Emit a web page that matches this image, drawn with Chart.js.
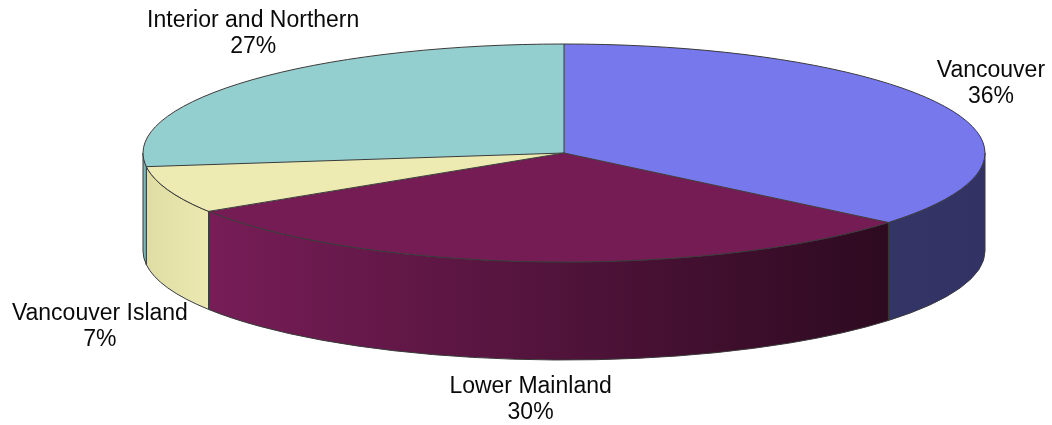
<!DOCTYPE html>
<html lang="en">
<head>
<meta charset="UTF-8">
<title>Share by region</title>
<script src="https://cdn.jsdelivr.net/npm/chart.js"></script>
<style>
  body { margin: 0; background: #fff; }
  canvas { display: block; }
</style>
</head>
<body>
<canvas id="pie3d" width="1052" height="425"></canvas>
<script>
// data
const regions = ['Vancouver', 'Lower Mainland', 'Vancouver Island', 'Interior and Northern'];
const shares = [36, 30, 7, 27];

// look
const topColors = ['#7678EC', '#751C55', '#EDEBB2', '#94CFD0'];
const sideLeft = ['#343567', '#771D57', '#DFDDA2', '#80B6B7'];
const sideRight = ['#323364', '#2D0A20', '#EBE9B1', '#80B6B7'];
const labelOffsets = [[46, -30], [-7, 33], [-68, 32], [5, -54]];
const tilt = 109 / 421;
const depth = 98;
const edge = '#3a3a3a';

function geom(chart) {
    const arcs = chart.getDatasetMeta(0).data;
    const p = arcs[0].getProps(['x', 'y', 'outerRadius'], true);
    return { arcs, cx: p.x, cy: p.y, rx: p.outerRadius, ry: p.outerRadius * tilt };
}

const pie3d = {
    id: 'pie3d',
    beforeDatasetsDraw(chart) {
        const ctx = chart.ctx;
        const { arcs, cx, cy, rx, ry } = geom(chart);
        // walls of the front half
        arcs.forEach((arc, i) => {
            const a = arc.getProps(['startAngle', 'endAngle'], true);
            const s = Math.max(a.startAngle, 0);
            const e = Math.min(a.endAngle, Math.PI);
            if (e <= s) return;
            const g = ctx.createLinearGradient(cx + rx * Math.cos(e), 0, cx + rx * Math.cos(s), 0);
            g.addColorStop(0, sideLeft[i]);
            g.addColorStop(1, sideRight[i]);
            ctx.beginPath();
            ctx.ellipse(cx, cy, rx, ry, 0, s, e, false);
            ctx.lineTo(cx + rx * Math.cos(e), cy + ry * Math.sin(e) + depth);
            ctx.ellipse(cx, cy + depth, rx, ry, 0, e, s, true);
            ctx.closePath();
            ctx.fillStyle = g;
            ctx.fill();
            ctx.strokeStyle = edge;
            ctx.lineWidth = 1;
            ctx.stroke();
        });
        // squash the top face into an ellipse
        ctx.save();
        ctx.translate(cx, cy);
        ctx.scale(1, tilt);
        ctx.translate(-cx, -cy);
    },
    afterDatasetsDraw(chart) {
        const ctx = chart.ctx;
        ctx.restore();
        const { arcs, cx, cy, rx, ry } = geom(chart);
        ctx.save();
        ctx.strokeStyle = edge;
        ctx.lineWidth = 1;
        ctx.beginPath();
        ctx.ellipse(cx, cy, rx, ry, 0, 0, Math.PI * 2);
        arcs.forEach(arc => {
            const a = arc.startAngle;
            ctx.moveTo(cx, cy);
            ctx.lineTo(cx + rx * Math.cos(a), cy + ry * Math.sin(a));
        });
        ctx.stroke();
        ctx.restore();
    },
    afterDraw(chart) {
        const ctx = chart.ctx;
        const { arcs, cx, cy, rx, ry } = geom(chart);
        const total = shares.reduce((t, v) => t + v, 0);
        ctx.save();
        ctx.font = '23px "Liberation Sans", Arial, sans-serif';
        ctx.fillStyle = '#0a0a0a';
        ctx.textAlign = 'center';
        ctx.textBaseline = 'alphabetic';
        arcs.forEach((arc, i) => {
            const m = (arc.startAngle + arc.endAngle) / 2;
            const sn = Math.sin(m);
            const ax = cx + rx * Math.cos(m);
            const ay = cy + ry * sn + (sn > 0 ? depth : 0);
            const x = ax + labelOffsets[i][0];
            const y = ay + labelOffsets[i][1];
            ctx.fillText(regions[i], x, y);
            ctx.fillText(Math.round(shares[i] / total * 100) + '%', x, y + 26);
        });
        ctx.restore();
    }
};

new Chart(document.getElementById('pie3d').getContext('2d'), {
    type: 'pie',
    data: {
        labels: regions,
        datasets: [{
            data: shares,
            backgroundColor: topColors,
            borderWidth: 0,
            clip: 2000
        }]
    },
    options: {
        responsive: false,
        animation: false,
        radius: 421,
        layout: { padding: { left: 76, right: 0, top: 0, bottom: 119 } },
        plugins: {
            legend: { display: false },
            tooltip: { enabled: false }
        }
    },
    plugins: [pie3d]
});
</script>
</body>
</html>
